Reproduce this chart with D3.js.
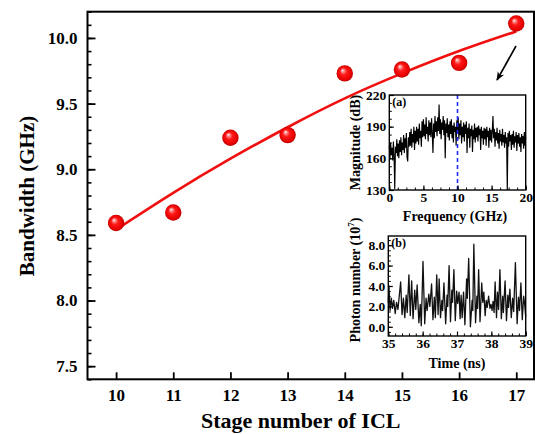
<!DOCTYPE html>
<html>
<head>
<meta charset="utf-8">
<script src="https://cdn.jsdelivr.net/npm/d3@7/dist/d3.min.js"></script>
<style>
  html, body { margin: 0; padding: 0; background: #fff; }
  svg text { font-family: "Liberation Serif", "Times New Roman", serif; font-weight: bold; fill: #000; }
</style>
</head>
<body>
<svg id="chart" width="535" height="434"></svg>
<script>
// ---- Main panel: modulation bandwidth vs. number of ICL stages ----
const stages = [10, 11, 12, 13, 14, 15, 16, 17];
const bandwidth = [8.59, 8.67, 9.24, 9.26, 9.73, 9.76, 9.81, 10.11];
const fitBandwidth = [8.54, 8.82, 9.08, 9.32, 9.54, 9.73, 9.90, 10.05];
const stageTicks = [10, 11, 12, 13, 14, 15, 16, 17];
const bandwidthTicks = [7.5, 8.0, 8.5, 9.0, 9.5, 10.0];

// ---- Inset (a): RF spectrum, 0.1 GHz steps from 0 to 20 GHz ----
const spectrumStep = 0.1;
const magnitude = [
  172, 160, 175, 163, 170, 158, 176, 162, 131, 171,
  165, 178, 162, 174, 160, 177, 166, 180, 163, 175,
  168, 182, 165, 179, 170, 184, 161, 157, 180, 171,
  185, 172, 188, 170, 183, 175, 190, 168, 186, 174,
  190, 176, 188, 173, 193, 179, 186, 171, 195, 180,
  197, 181, 192, 178, 199, 183, 190, 176, 196, 182,
  194, 180, 198, 184, 165, 193, 179, 200, 185, 195,
  181, 199, 186, 211, 183, 197, 178, 194, 187, 200,
  182, 196, 160, 193, 184, 198, 180, 192, 177, 195,
  183, 197, 179, 191, 175, 194, 185, 190, 172, 196,
  184, 199, 178, 193, 182, 196, 174, 190, 180, 194,
  176, 192, 183, 195, 165, 189, 179, 193, 170, 188,
  181, 191, 166, 187, 178, 193, 175, 189, 180, 190,
  176, 191, 182, 188, 168, 190, 179, 186, 173, 189,
  178, 188, 172, 190, 180, 186, 170, 189, 177, 187,
  175, 186, 200, 179, 188, 171, 185, 177, 189, 174,
  184, 169, 187, 176, 183, 172, 188, 175, 182, 170,
  185, 174, 180, 130, 184, 171, 186, 176, 182, 168,
  183, 173, 186, 170, 181, 175, 185, 167, 182, 174,
  184, 171, 180, 166, 183, 174, 181, 169, 185, 172,
  180
];
const markerFrequency = 10;
const freqTicks = [0, 5, 10, 15, 20];
const magTicks = [130, 160, 190, 220];

// ---- Inset (b): photon number time trace (peaks and troughs) ----
const timeNs = [
  35.00, 35.02, 35.05, 35.09, 35.12, 35.16, 35.20, 35.24, 35.28, 35.36,
  35.40, 35.44, 35.48, 35.52, 35.55, 35.60, 35.64, 35.68, 35.72, 35.77,
  35.80, 35.84, 35.89, 35.93, 35.96, 36.01, 36.06, 36.10, 36.13, 36.18,
  36.21, 36.26, 36.30, 36.34, 36.37, 36.41, 36.45, 36.48, 36.52, 36.56,
  36.58, 36.62, 36.67, 36.71, 36.73, 36.77, 36.81, 36.85, 36.87, 36.91,
  36.95, 36.99, 37.02, 37.06, 37.09, 37.12, 37.15, 37.19, 37.23, 37.28,
  37.30, 37.34, 37.39, 37.44, 37.46, 37.49, 37.54, 37.58, 37.60, 37.63,
  37.67, 37.72, 37.75, 37.78, 37.82, 37.85, 37.88, 37.92, 37.96, 37.99,
  38.02, 38.05, 38.08, 38.11, 38.15, 38.18, 38.21, 38.25, 38.29, 38.33,
  38.35, 38.40, 38.44, 38.48, 38.50, 38.54, 38.58, 38.62, 38.65, 38.70,
  38.75, 38.79, 38.82, 38.86, 38.90, 38.94, 38.97, 39.00
];
const photonNumber = [
  2.4, 4.0, 1.6, 2.8, 1.8, 2.6, 1.3, 2.4, 1.7, 4.4,
  1.2, 2.8, 0.9, 3.1, 1.4, 5.1, 1.1, 4.5, 0.8, 3.6,
  1.7, 4.1, 0.4, 2.2, 0.1, 6.4, 0.3, 2.8, 1.6, 3.2,
  2.0, 4.2, 0.7, 2.9, 0.9, 5.1, 1.2, 4.7, 0.9, 2.6,
  1.6, 4.3, 0.3, 3.1, 2.0, 6.0, 0.5, 3.6, 2.4, 5.6,
  0.6, 3.5, 2.3, 3.4, 0.8, 3.1, 0.9, 3.4, 0.2, 4.7,
  2.8, 6.7, 0.0, 2.6, 1.6, 8.1, 0.4, 3.0, 1.8, 5.6,
  0.5, 4.3, 2.4, 3.4, 1.1, 2.6, 1.9, 3.0, 1.8, 2.2,
  1.6, 2.5, 1.4, 4.4, 0.9, 3.4, 1.7, 5.6, 0.8, 3.0,
  1.4, 4.5, 0.6, 3.1, 1.9, 3.7, 0.9, 2.8, 1.5, 6.3,
  0.3, 2.9, 1.6, 4.3, 0.7, 3.0, 2.2, 1.0
];
const timeTicks = [35, 36, 37, 38, 39];
const photonTicks = [0.0, 2.0, 4.0, 6.0, 8.0];

const svg = d3.select("#chart");

// ---------- helpers ----------
function frame(g, x0, y0, x1, y1, w) {
  g.append("rect").attr("x", x0).attr("y", y0)
    .attr("width", x1 - x0).attr("height", y1 - y0)
    .attr("fill", "none").attr("stroke", "#000").attr("stroke-width", w);
}
function styleAxis(g, w) {
  g.select(".domain").remove();
  g.selectAll(".tick line").attr("stroke", "#000").attr("stroke-width", w);
}
function rangeTicks(lo, hi, step) {
  const out = [];
  const n = Math.round((hi - lo) / step);
  for (let i = 0; i <= n; i++) out.push(+(lo + i * step).toFixed(6));
  return out;
}

// ---------- main panel ----------
const main = { left: 87.5, right: 534, top: 11.7, bottom: 379.3 };
const x = d3.scaleLinear().domain([9.5, 17.31]).range([main.left, main.right]);
const y = d3.scaleLinear().domain([7.4, 10.2]).range([main.bottom, main.top]);

// minor y ticks every 0.1
const yMinor = svg.append("g").attr("transform", `translate(${main.left},0)`)
  .call(d3.axisLeft(y).tickValues(rangeTicks(7.4, 10.2, 0.1)).tickSize(-4).tickFormat(""));
styleAxis(yMinor, 1.6);
const yMajor = svg.append("g").attr("transform", `translate(${main.left},0)`)
  .call(d3.axisLeft(y).tickValues(bandwidthTicks).tickSize(-8).tickPadding(10)
    .tickFormat(d3.format(".1f")));
styleAxis(yMajor, 1.8);
yMajor.selectAll("text").attr("font-size", 17).attr("font-family", null);

const xMajor = svg.append("g").attr("transform", `translate(0,${main.bottom})`)
  .call(d3.axisBottom(x).tickValues(stageTicks).tickSize(-7).tickPadding(10)
    .tickFormat(d3.format("d")));
styleAxis(xMajor, 1.8);
xMajor.selectAll("text").attr("font-size", 17).attr("font-family", null);

frame(svg, main.left, main.top, main.right, main.bottom, 2);

svg.append("text").attr("x", (main.left + main.right) / 2 - 10).attr("y", 428)
  .attr("text-anchor", "middle").attr("font-size", 22).text("Stage number of ICL");
svg.append("text").attr("transform", "translate(34,196) rotate(-90)")
  .attr("text-anchor", "middle").attr("font-size", 21).text("Bandwidth (GHz)");

// fitted curve
const fitLine = d3.line().x((d, i) => x(stages[i])).y(d => y(d)).curve(d3.curveNatural);
svg.append("path").datum(fitBandwidth).attr("d", fitLine)
  .attr("fill", "none").attr("stroke", "#f01010").attr("stroke-width", 2.6);

// shaded spherical markers
const defs = svg.append("defs");
const grad = defs.append("radialGradient").attr("id", "ball")
  .attr("cx", "50%").attr("cy", "50%").attr("r", "50%")
  .attr("fx", "36%").attr("fy", "30%");
grad.append("stop").attr("offset", "0%").attr("stop-color", "#ffffff");
grad.append("stop").attr("offset", "15%").attr("stop-color", "#ff9a9a");
grad.append("stop").attr("offset", "42%").attr("stop-color", "#ff1a1a");
grad.append("stop").attr("offset", "85%").attr("stop-color", "#e60000");
grad.append("stop").attr("offset", "100%").attr("stop-color", "#b80000");

svg.append("g").selectAll("circle").data(bandwidth).join("circle")
  .attr("cx", (d, i) => x(stages[i])).attr("cy", d => y(d)).attr("r", 8.2)
  .attr("fill", "url(#ball)");

// pointer arrow toward the insets
defs.append("marker").attr("id", "head").attr("viewBox", "0 0 10 10")
  .attr("refX", 9).attr("refY", 5).attr("markerWidth", 9).attr("markerHeight", 9)
  .attr("markerUnits", "userSpaceOnUse").attr("orient", "auto")
  .append("path").attr("d", "M0,1 L10,5 L0,9 L3,5 Z").attr("fill", "#000");
svg.append("line").attr("x1", 516).attr("y1", 46).attr("x2", 497).attr("y2", 80)
  .attr("stroke", "#000").attr("stroke-width", 1.6).attr("marker-end", "url(#head)");

// ---------- inset (a) ----------
const A = { left: 389.3, right: 525.7, top: 95, bottom: 190 };
const xa = d3.scaleLinear().domain([0, 20]).range([A.left, A.right]);
const ya = d3.scaleLinear().domain([130, 220]).range([A.bottom, A.top]);
const ga = svg.append("g");
ga.append("rect").attr("x", A.left).attr("y", A.top).attr("width", A.right - A.left)
  .attr("height", A.bottom - A.top).attr("fill", "#fff");

const specLine = d3.line().x((d, i) => xa(i * spectrumStep)).y(d => ya(d));
ga.append("path").datum(magnitude).attr("d", specLine)
  .attr("fill", "none").attr("stroke", "#000").attr("stroke-width", 1.15);
ga.append("line").attr("x1", xa(markerFrequency)).attr("x2", xa(markerFrequency))
  .attr("y1", A.top).attr("y2", A.bottom)
  .attr("stroke", "#1f2bff").attr("stroke-width", 1.6).attr("stroke-dasharray", "4,3");

const yaMinor = ga.append("g").attr("transform", `translate(${A.left},0)`)
  .call(d3.axisLeft(ya).tickValues(rangeTicks(130, 220, 7.5)).tickSize(-2.5).tickFormat(""));
styleAxis(yaMinor, 1);
const yaMajor = ga.append("g").attr("transform", `translate(${A.left},0)`)
  .call(d3.axisLeft(ya).tickValues(magTicks).tickSize(-4.5).tickPadding(3));
styleAxis(yaMajor, 1.2);
yaMajor.selectAll("text").attr("font-size", 13.5).attr("font-family", null);
const xaMinor = ga.append("g").attr("transform", `translate(0,${A.bottom})`)
  .call(d3.axisBottom(xa).tickValues(rangeTicks(0, 20, 1.25)).tickSize(-2.5).tickFormat(""));
styleAxis(xaMinor, 1);
const xaMajor = ga.append("g").attr("transform", `translate(0,${A.bottom})`)
  .call(d3.axisBottom(xa).tickValues(freqTicks).tickSize(-4.5).tickPadding(2));
styleAxis(xaMajor, 1.2);
xaMajor.selectAll("text").attr("font-size", 13.5).attr("font-family", null);
frame(ga, A.left, A.top, A.right, A.bottom, 1.4);

ga.append("text").attr("x", A.left + 3).attr("y", A.top + 11).attr("font-size", 12).text("(a)");
ga.append("text").attr("x", 455).attr("y", 221).attr("text-anchor", "middle")
  .attr("font-size", 14).text("Frequency (GHz)");
ga.append("text").attr("transform", `translate(360,${(A.top + A.bottom) / 2}) rotate(-90)`)
  .attr("text-anchor", "middle").attr("font-size", 14).text("Magnitude (dB)");

// ---------- inset (b) ----------
const B = { left: 388.3, right: 525.7, top: 236, bottom: 336 };
const xb = d3.scaleLinear().domain([35, 39]).range([B.left, B.right]);
const yb = d3.scaleLinear().domain([-0.9, 8.9]).range([B.bottom, B.top]);
const gb = svg.append("g");
gb.append("rect").attr("x", B.left).attr("y", B.top).attr("width", B.right - B.left)
  .attr("height", B.bottom - B.top).attr("fill", "#fff");

const traceLine = d3.line().x((d, i) => xb(timeNs[i])).y(d => yb(d));
gb.append("path").datum(photonNumber).attr("d", traceLine)
  .attr("fill", "none").attr("stroke", "#111").attr("stroke-width", 1.3)
  .attr("stroke-linejoin", "round");

const ybMinor = gb.append("g").attr("transform", `translate(${B.left},0)`)
  .call(d3.axisLeft(yb).tickValues(rangeTicks(-0.5, 8.5, 0.5)).tickSize(-2.5).tickFormat(""));
styleAxis(ybMinor, 1);
const ybMajor = gb.append("g").attr("transform", `translate(${B.left},0)`)
  .call(d3.axisLeft(yb).tickValues(photonTicks).tickSize(-4.5).tickPadding(3)
    .tickFormat(d3.format(".1f")));
styleAxis(ybMajor, 1.2);
ybMajor.selectAll("text").attr("font-size", 13.5).attr("font-family", null);
const xbMinor = gb.append("g").attr("transform", `translate(0,${B.bottom})`)
  .call(d3.axisBottom(xb).tickValues(rangeTicks(35, 39, 0.2)).tickSize(-2.5).tickFormat(""));
styleAxis(xbMinor, 1);
const xbMajor = gb.append("g").attr("transform", `translate(0,${B.bottom})`)
  .call(d3.axisBottom(xb).tickValues(timeTicks).tickSize(-4.5).tickPadding(2)
    .tickFormat(d3.format("d")));
styleAxis(xbMajor, 1.2);
xbMajor.selectAll("text").attr("font-size", 13.5).attr("font-family", null);
frame(gb, B.left, B.top, B.right, B.bottom, 1.4);

gb.append("text").attr("x", B.left + 3).attr("y", B.top + 11).attr("font-size", 12).text("(b)");
gb.append("text").attr("x", 457).attr("y", 368).attr("text-anchor", "middle")
  .attr("font-size", 14).text("Time (ns)");
const pl = gb.append("text").attr("transform", `translate(360,${(B.top + B.bottom) / 2 - 6}) rotate(-90)`)
  .attr("text-anchor", "middle").attr("font-size", 14);
pl.append("tspan").text("Photon number (10");
pl.append("tspan").attr("font-size", 9).attr("dy", -6).text("7");
pl.append("tspan").attr("dy", 6).text(")");
</script>
</body>
</html>
